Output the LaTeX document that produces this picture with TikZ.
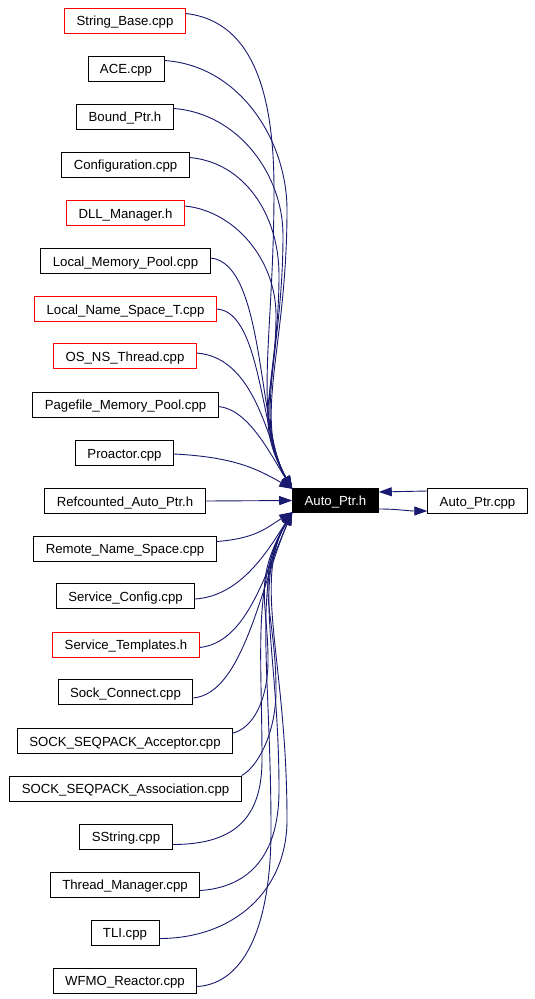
\documentclass[tikz,border=0pt]{standalone}
\usepackage{fontspec}
\setmainfont{Liberation Sans}
\usetikzlibrary{arrows.meta}
\definecolor{edgeblue}{RGB}{25,25,112}
\begin{document}
\begin{tikzpicture}[x=1pt,y=-1pt,
  box/.style={draw=black, line width=0.9pt, minimum height=25pt, inner xsep=12pt, inner ysep=0pt, text height=12pt, text depth=2pt, font=\fontsize{13.2}{15}\selectfont, fill=white},
  redbox/.style={box, draw=red},
  mainbox/.style={box, fill=black, text=white, minimum height=24pt},
  edge/.style={draw=edgeblue, line width=0.9pt, -{Triangle[length=13pt,width=9pt]}},
]
\useasboundingbox (0,0) rectangle (535,999);
\fill[white] (0,0) rectangle (535,999);

\node[redbox] (sb)   at (125,20.5)   {String\_Base.cpp};
\node[box]    (ace)  at (126,68.5)   {ACE.cpp};
\node[box]    (bp)   at (125,116.5)  {Bound\_Ptr.h};
\node[box]    (cfg)  at (125.5,164.5){Configuration.cpp};
\node[redbox] (dll)  at (125.5,213)  {DLL\_Manager.h};
\node[box]    (lmp)  at (125.5,261)  {Local\_Memory\_Pool.cpp};
\node[redbox] (lnst) at (125.5,309)  {Local\_Name\_Space\_T.cpp};
\node[redbox] (os)   at (125,356)    {OS\_NS\_Thread.cpp};
\node[box]    (pf)   at (125.5,404.5){Pagefile\_Memory\_Pool.cpp};
\node[box]    (pr)   at (124.5,453)  {Proactor.cpp};
\node[box]    (rc)   at (125,501)    {Refcounted\_Auto\_Ptr.h};
\node[box]    (rem)  at (125,548.5)  {Remote\_Name\_Space.cpp};
\node[box]    (sc)   at (125.5,596)  {Service\_Config.cpp};
\node[redbox] (st)   at (126,644.5)  {Service\_Templates.h};
\node[box]    (skc)  at (125.5,692)  {Sock\_Connect.cpp};
\node[box]    (acc)  at (125,741)    {SOCK\_SEQPACK\_Acceptor.cpp};
\node[box]    (asc)  at (125.5,788.5){SOCK\_SEQPACK\_Association.cpp};
\node[box]    (ss)   at (126,836.5)  {SString.cpp};
\node[box]    (tm)   at (125,884.5)  {Thread\_Manager.cpp};
\node[box]    (tli)  at (125,932.5)  {TLI.cpp};
\node[box]    (wf)   at (125,980.5)  {WFMO\_Reactor.cpp};
\node[mainbox] (ah)  at (335.5,500.5){Auto\_Ptr.h};
\node[box]    (apc)  at (477.5,501)  {Auto\_Ptr.cpp};

% top group
\draw[edge] ([yshift=7pt]sb.east) .. controls +(70,8) and +(0,-90) .. (274,190) .. controls +(0,150) and +(-40,-70) .. (ah.165);
\draw[edge] ([yshift=8pt]ace.east) .. controls +(75,5) and +(0,-70) .. (287,210) .. controls +(0,140) and +(-40,-70) .. (ah.165);
\draw[edge] ([yshift=8pt]bp.east) .. controls +(65,5) and +(0,-60) .. (283,235) .. controls +(0,120) and +(-40,-70) .. (ah.165);
\draw[edge] ([yshift=7pt]cfg.east) .. controls +(55,5) and +(0,-60) .. (279,275) .. controls +(0,100) and +(-40,-70) .. (ah.165);
\draw[edge] ([yshift=7pt]dll.east) .. controls +(50,5) and +(0,-55) .. (276,315) .. controls +(0,80) and +(-40,-70) .. (ah.165);
\draw[edge] ([yshift=3pt]lmp.east) .. controls +(55,5) and +(-35,-60) .. (ah.165);
\draw[edge] (lnst.east) .. controls +(45,3) and +(-32,-55) .. (ah.165);
\draw[edge] ([yshift=3pt]os.east) .. controls +(60,5) and +(-25,-45) .. (ah.165);
\draw[edge] ([yshift=-2pt]pf.east) .. controls +(30,3) and +(-22,-35) .. (ah.165);
\draw[edge] ([yshift=-1pt]pr.east) .. controls +(60,3) and +(-35,-20) .. (ah.165);
\draw[edge] (rc.east) -- (ah.west);

% bottom group
\draw[edge] ([yshift=7pt]rem.east) .. controls +(40,-3) and +(-25,15) .. (ah.195);
\draw[edge] ([yshift=-3pt]sc.east) .. controls +(45,-3) and +(-25,40) .. (ah.195);
\draw[edge] ([yshift=-3pt]st.east) .. controls +(45,-5) and +(-30,70) .. (ah.195);
\draw[edge] ([yshift=-6pt]skc.east) .. controls +(50,-5) and +(-32,75) .. (ah.195);
\draw[edge] ([yshift=8pt]acc.east) .. controls +(20,-5) and +(0,40) .. (268,660) .. controls +(0,-60) and +(-40,70) .. (ah.195);
\draw[edge] (asc.north east) .. controls +(15,-8) and +(0,45) .. (276,690) .. controls +(0,-80) and +(-40,70) .. (ah.195);
\draw[edge] ([yshift=-8pt]ss.east) .. controls +(60,0) and +(0,60) .. (262,760) .. controls +(0,-110) and +(-40,70) .. (ah.195);
\draw[edge] ([yshift=-6pt]tm.east) .. controls +(45,-3) and +(0,70) .. (279,790) .. controls +(0,-140) and +(-40,70) .. (ah.195);
\draw[edge] ([yshift=-6pt]tli.east) .. controls +(75,0) and +(0,70) .. (287,820) .. controls +(0,-160) and +(-40,70) .. (ah.195);
\draw[edge] ([yshift=-6pt]wf.east) .. controls +(50,-3) and +(0,90) .. (271,830) .. controls +(0,-160) and +(-40,70) .. (ah.195);

% Auto_Ptr.h <-> Auto_Ptr.cpp
\draw[edge] ([yshift=10pt]apc.west) -- ([yshift=8.5pt]ah.east);
\draw[edge] ([yshift=-8.5pt]ah.east) .. controls +(20,0) and +(-20,0) .. ([yshift=-10pt]apc.west);
\end{tikzpicture}
\end{document}
